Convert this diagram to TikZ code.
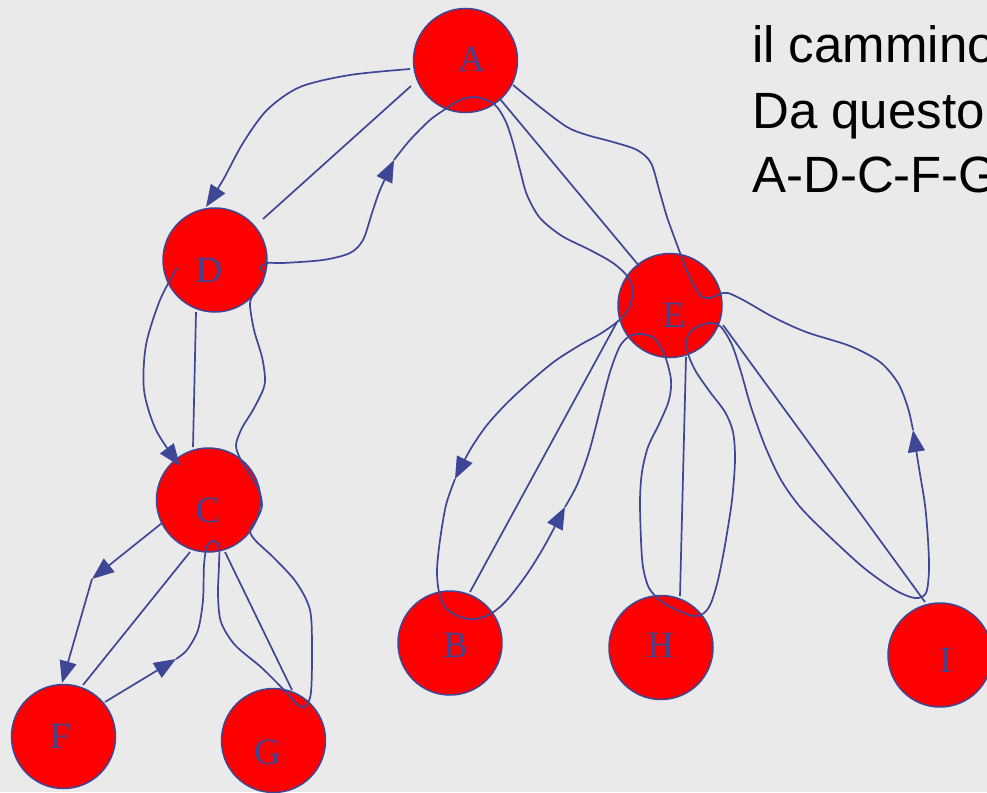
\documentclass[tikz,border=0pt]{standalone}
\usepackage{fontspec}
\setmainfont{Liberation Serif}
\newfontfamily\arialf{Liberation Sans}
\usetikzlibrary{arrows.meta,calc}
\definecolor{eblue}{RGB}{62,70,150}
\definecolor{bggray}{RGB}{234,234,234}
\tikzset{
  vtx/.style={circle, minimum size=104pt, inner sep=0pt, outer sep=0pt, draw=eblue, line width=1.5pt, fill=red},
  lbl/.style={text=eblue, font=\fontsize{37}{37}\selectfont, inner sep=0pt},
  conn/.style={draw=eblue, line width=1.7pt, line join=round},
  arr/.style={conn, arrows={-Triangle[length=22pt, width=17pt]}},
  txt/.style={font=\arialf\fontsize{51}{64}\selectfont, anchor=base west, inner sep=0pt, text=black}}
\begin{document}
\begin{tikzpicture}[x=1pt,y=-1pt]
\useasboundingbox (0,0) rectangle (987,792);
\fill[bggray] (0,0) rectangle (987,792);

% vertices
\node[vtx] (A) at (465.5,60.5) {};
\node[vtx] (D) at (215,260) {};
\node[vtx] (C) at (208.5,500) {};
\node[vtx] (F) at (63.5,736.5) {};
\node[vtx] (G) at (273.5,740.5) {};
\node[vtx] (E) at (670,305.5) {};
\node[vtx] (B) at (450,643) {};
\node[vtx] (H) at (661,647.5) {};
\node[vtx] (I) at (940,655) {};

% tree edges
\draw[conn] ($(A)+(-54.5,25.5)$) -- ($(D)+(48,-41)$);
\draw[conn] ($(D)+(-19,52)$) -- ($(C)+(-15.5,-53)$);
\draw[conn] ($(C)+(-18.5,52)$) -- ($(F)+(19.5,-51.5)$);
\draw[conn] ($(C)+(16.5,52)$) -- ($(G)+(18.5,-50.5)$);
\draw[conn] ($(A)+(34.5,38.5)$) -- ($(E)+(-30,-38.5)$);
\draw[conn] ($(E)+(-53,16.5)$) -- ($(B)+(20,-51)$);
\draw[conn] ($(E)+(16,51.5)$) -- ($(H)+(19,-51.5)$);
\draw[conn] ($(E)+(53,19.5)$) -- ($(I)+(-15,-53)$);

% traversal path
\coordinate (p1s) at ($(A)+(-55.5,8.5)$);
\coordinate (p1e) at ($(D)+(-9,-53)$);
\coordinate (p2s) at ($(D)+(-38,8)$);
\coordinate (p2e) at ($(C)+(-28.5,-34)$);
\coordinate (p3s) at ($(C)+(-46.5,23)$);
\coordinate (k1) at (92,579);
\coordinate (p4e) at ($(F)+(-1.5,-53.5)$);
\coordinate (p5s) at ($(F)+(41.5,-34.5)$);
\coordinate (k2) at (176,659);
\coordinate (k3) at (394,160);
\coordinate (k4) at (455,479);
\coordinate (k5) at (565,507);
\coordinate (k6) at (913,430);
\coordinate (p10e) at ($(A)+(47.5,24.5)$);

\draw[arr] plot[smooth] coordinates {(p1s) (350,75) (300,87) (267,110) (243,143) (223,180) (p1e)};
\draw[arr] plot[smooth] coordinates {(p2s) (160,300) (146,345) (144,390) (156,430) (p2e)};
\draw[arr] (p3s) -- (k1);
\draw[arr] (k1) -- (p4e);
\draw[arr] (p5s) -- (k2);
\draw[arr] plot[smooth] coordinates {(k2) (187,650) (198,630) (203,600) (204,565) (207,546) (213,541) (219,546) (219,565) (218,595) (221,622) (235,645) (262,668) (286,692) (298,705) (306,706) (311,692) (312,650) (310,610) (296,582) (274,558) (255,540) (250,530) (258,517) (262,505) (258,488) (241,460) (236,445) (242,428) (253,410) (263,390) (265,378) (262,357) (254,330) (250,305) (253,295) (262,283) (264,272) (260,268) (267,263) (283,263) (323,260) (350,253) (363,240) (372,213) (380,190) (k3)};
\draw[arr] plot[smooth] coordinates {(k3) (410,140) (430,120) (447,108) (460,100) (473,97) (487,100) (497,107) (506,122) (513,143) (520,170) (527,195) (540,218) (562,236) (590,250) (613,263) (628,277) (633,292) (628,310) (617,322) (600,334) (580,345) (555,361) (532,380) (508,402) (487,425) (470,450) (k4)};
\draw[arr] plot[smooth] coordinates {(k4) (446,505) (440,540) (437,570) (439,592) (446,608) (460,617) (476,619) (492,613) (507,600) (527,574) (545,545) (k5)};
\draw[arr] plot[smooth] coordinates {(k5) (577,485) (589,452) (600,410) (610,372) (620,346) (630,336) (642,334) (655,339) (665,356) (671,380) (669,400) (660,422) (648,447) (642,472) (640,500) (641,540) (643,567) (649,588) (661,601) (677,610) (693,616) (704,613) (711,603) (718,580) (725,545) (732,500) (735,460) (733,432) (725,412) (710,392) (695,370) (687,350) (688,335) (697,327) (710,323) (721,327) (732,345) (741,372) (751,407) (765,446) (781,480) (801,508) (830,537) (864,568) (895,590) (915,598) (926,593) (929,570) (928,540) (925,505) (919,468) (k6)};
\draw[conn] plot[smooth] coordinates {(k6) (908,408) (898,383) (880,362) (850,346) (806,332) (773,317) (745,301) (728,293) (720,294) (710,298) (700,295) (690,278) (682,258) (676,242) (667,217) (660,193) (651,163) (637,150) (613,142) (587,135) (567,127) (540,107) (p10e)};

% vertex labels
\node[lbl] (lA) at (471.5,59.5) {A};
\node[lbl] (lD) at (209,270) {D};
\node[lbl] (lC) at (208,510.5) {C};
\node[lbl] (lF) at (60.5,736) {F};
\node[lbl] (lG) at (267.5,752) {G};
\node[lbl] (lE) at (674,315.5) {E};
\node[lbl] (lB) at (455.5,645.5) {B};
\node[lbl] (lH) at (660.5,645) {H};
\node[lbl] (lI) at (946,660.5) {I};

% text (cut off at the right edge, as in the reference)
\node[txt] (t1) at (752,63) {il cammino};
\node[txt] (t2) at (752,128) {Da questo};
\node[txt] (t3) at (752,192) {A-D-C-F-G};
\end{tikzpicture}
\end{document}
